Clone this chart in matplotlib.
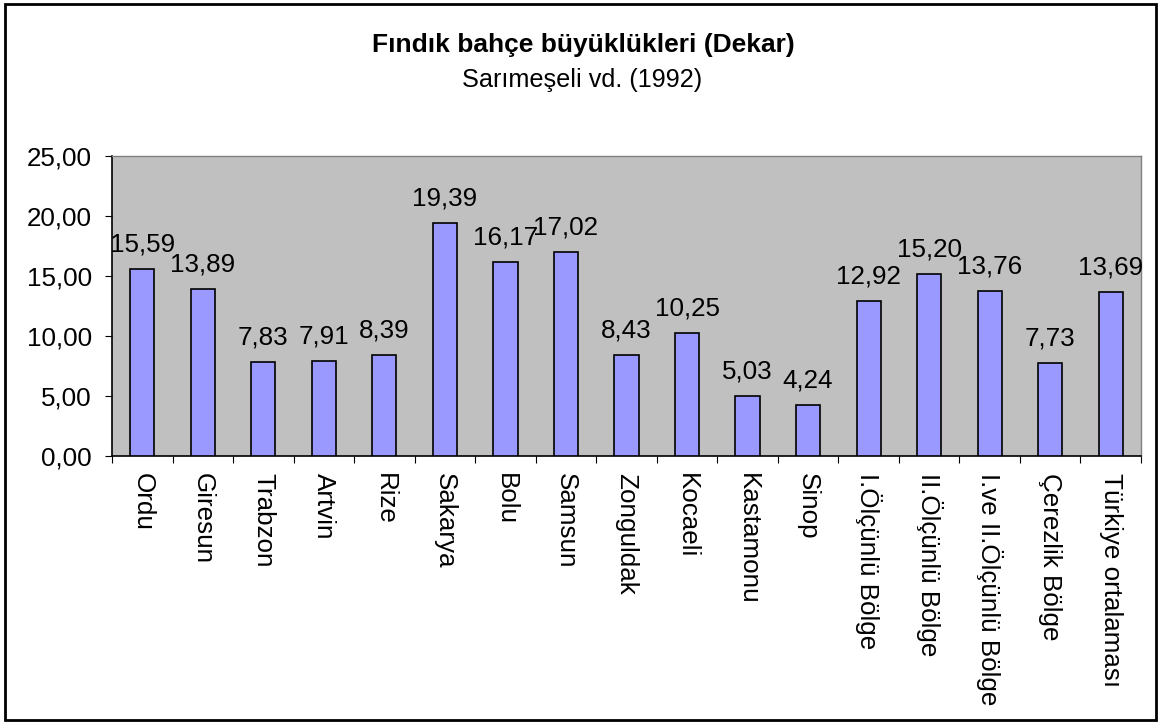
import matplotlib
matplotlib.use("Agg")
import matplotlib.pyplot as plt
from matplotlib.patches import Rectangle

categories = ["Ordu", "Giresun", "Trabzon", "Artvin", "Rize", "Sakarya", "Bolu", "Samsun",
              "Zonguldak", "Kocaeli", "Kastamonu", "Sinop", "I.Ölçünlü Bölge",
              "II.Ölçünlü Bölge", "I.ve II.Ölçünlü Bölge", "Çerezlik Bölge", "Türkiye ortalaması"]
values = [15.59, 13.89, 7.83, 7.91, 8.39, 19.39, 16.17, 17.02, 8.43, 10.25, 5.03, 4.24,
          12.92, 15.20, 13.76, 7.73, 13.69]
yticks = [0, 5, 10, 15, 20, 25]

plt.rcParams['font.family'] = ['Liberation Sans', 'DejaVu Sans']

W, H = 1161, 722
fig = plt.figure(figsize=(W / 100, H / 100), dpi=100)
fig.patch.set_facecolor("white")

# outer frame
fig.add_artist(Rectangle((5 / W, 1 - 720 / H), (1156 - 5) / W, (720 - 4) / H,
                         transform=fig.transFigure, fill=False, edgecolor="black", lw=2))

left, right, top, bottom = 112, 1141, 156, 456
ax = fig.add_axes([left / W, 1 - bottom / H, (right - left) / W, (bottom - top) / H])
ax.set_facecolor("#C0C0C0")

x = list(range(len(categories)))
ax.bar(x, values, width=0.4, color="#9999FF", edgecolor="black", linewidth=1.2, zorder=3)

fs = 18.7
for xi, v in zip(x, values):
    ax.annotate(f"{v:.2f}".replace(".", ","), (xi, v), xytext=(0, 12.5),
                textcoords="offset points", ha="center", va="baseline",
                fontsize=fs, color="black", zorder=4)

ax.set_xlim(-0.5, len(categories) - 0.5)
ax.set_ylim(0, 25)
ax.set_yticks(yticks)
ax.set_yticklabels([f"{t:.2f}".replace(".", ",") for t in yticks], fontsize=fs)

# ticks between categories
ax.set_xticks([i - 0.5 for i in range(len(categories) + 1)], minor=False)
ax.set_xticklabels([])
ax.set_xticks(x, minor=True)
ax.set_xticklabels(categories, minor=True, rotation=270, fontsize=fs, va="top", ha="center")
ax.tick_params(axis="x", which="minor", length=0, pad=12)
ax.tick_params(axis="x", which="major", length=5, direction="out", color="black")
ax.tick_params(axis="y", length=5, direction="out", pad=9.5)

for s in ["top", "right"]:
    ax.spines[s].set_color("#808080")
    ax.spines[s].set_linewidth(1)
for s in ["left", "bottom"]:
    ax.spines[s].set_color("black")
    ax.spines[s].set_linewidth(1.2)

fig.text(583.5 / W, 1 - 45 / H, "Fındık bahçe büyüklükleri (Dekar)",
         ha="center", va="center", fontsize=19, fontweight="bold")
fig.text(582.5 / W, 1 - 80 / H, "Sarımeşeli vd. (1992)",
         ha="center", va="center", fontsize=18.2)

fig.savefig("out.png", dpi=100)
